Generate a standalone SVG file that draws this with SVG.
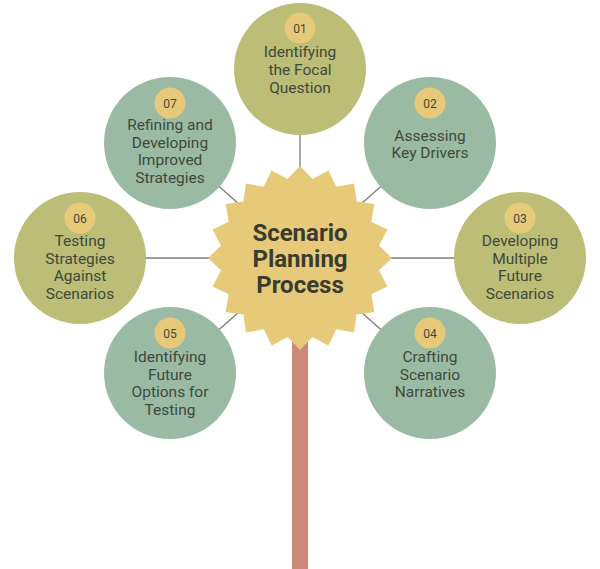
<svg xmlns="http://www.w3.org/2000/svg" width="600" height="569" viewBox="0 0 600 569">
<style>
.olive{fill:#bcbd76}
.sage{fill:#9bbaa4}
.badge{fill:#e6c979}
.lbl{font-family:Roboto,"Liberation Sans",sans-serif;font-size:15.5px;fill:#3e4a3d;text-anchor:middle}
.num{font-family:Roboto,"Liberation Sans",sans-serif;font-size:12px;fill:#3e4a3d;text-anchor:middle}
.title{font-family:Roboto,"Liberation Sans",sans-serif;font-size:24px;font-weight:bold;fill:#3b3b2e;text-anchor:middle}
.conn{stroke:#7c7c7c;stroke-width:1.3;fill:none}
</style>
<rect width="600" height="569" fill="#ffffff"/>
<rect id="stem" x="292" y="300" width="16" height="269" fill="#cd887b"/>
<g id="connectors">
<line class="conn" x1="300" y1="258" x2="300" y2="69"/>
<line class="conn" x1="300" y1="258" x2="430" y2="143"/>
<line class="conn" x1="300" y1="258" x2="520" y2="258"/>
<line class="conn" x1="300" y1="258" x2="430" y2="373"/>
<line class="conn" x1="300" y1="258" x2="170" y2="373"/>
<line class="conn" x1="300" y1="258" x2="80" y2="258"/>
<line class="conn" x1="300" y1="258" x2="170" y2="143"/>
</g>
<g id="center">
<polygon fill="#e6c979" points="300,166 312.5,179 328.4,170.5 336.3,186.7 354.1,183.6 356.6,201.4 374.4,203.9 371.3,221.7 387.5,229.6 379,245.5 392,258 379,270.5 387.5,286.4 371.3,294.3 374.4,312.1 356.6,314.6 354.1,332.4 336.3,329.3 328.4,345.5 312.5,337 300,350 287.5,337 271.6,345.5 263.7,329.3 245.9,332.4 243.4,314.6 225.6,312.1 228.7,294.3 212.5,286.4 221,270.5 208,258 221,245.5 212.5,229.6 228.7,221.7 225.6,203.9 243.4,201.4 245.9,183.6 263.7,186.7 271.6,170.5 287.5,179"/>
<text class="title" x="300" y="241">Scenario</text>
<text class="title" x="300" y="267">Planning</text>
<text class="title" x="300" y="293">Process</text>
</g>
<g id="node01">
<circle class="olive" cx="300" cy="69" r="66"/>
<circle class="badge" cx="300" cy="28" r="15.5"/>
<text class="num" x="300" y="32.5">01</text>
<text class="lbl" x="300" y="57">Identifying</text>
<text class="lbl" x="300" y="75">the Focal</text>
<text class="lbl" x="300" y="92.5">Question</text>
</g>
<g id="node02">
<circle class="sage" cx="430" cy="143" r="66"/>
<circle class="badge" cx="430" cy="103" r="15.5"/>
<text class="num" x="430" y="107.5">02</text>
<text class="lbl" x="430" y="140.5">Assessing</text>
<text class="lbl" x="430" y="158">Key Drivers</text>
</g>
<g id="node03">
<circle class="olive" cx="520" cy="258" r="66"/>
<circle class="badge" cx="520" cy="218" r="15.5"/>
<text class="num" x="520" y="222.5">03</text>
<text class="lbl" x="520" y="246">Developing</text>
<text class="lbl" x="520" y="263.5">Multiple</text>
<text class="lbl" x="520" y="281">Future</text>
<text class="lbl" x="520" y="298.5">Scenarios</text>
</g>
<g id="node04">
<circle class="sage" cx="430" cy="373" r="66"/>
<circle class="badge" cx="430" cy="333" r="15.5"/>
<text class="num" x="430" y="337.5">04</text>
<text class="lbl" x="430" y="362">Crafting</text>
<text class="lbl" x="430" y="379.5">Scenario</text>
<text class="lbl" x="430" y="397">Narratives</text>
</g>
<g id="node05">
<circle class="sage" cx="170" cy="373" r="66"/>
<circle class="badge" cx="170" cy="333" r="15.5"/>
<text class="num" x="170" y="337.5">05</text>
<text class="lbl" x="170" y="362">Identifying</text>
<text class="lbl" x="170" y="379.5">Future</text>
<text class="lbl" x="170" y="397">Options for</text>
<text class="lbl" x="170" y="414.5">Testing</text>
</g>
<g id="node06">
<circle class="olive" cx="80" cy="258" r="66"/>
<circle class="badge" cx="80" cy="218" r="15.5"/>
<text class="num" x="80" y="222.5">06</text>
<text class="lbl" x="80" y="246">Testing</text>
<text class="lbl" x="80" y="263.5">Strategies</text>
<text class="lbl" x="80" y="281">Against</text>
<text class="lbl" x="80" y="298.5">Scenarios</text>
</g>
<g id="node07">
<circle class="sage" cx="170" cy="143" r="66"/>
<circle class="badge" cx="170" cy="103" r="15.5"/>
<text class="num" x="170" y="107.5">07</text>
<text class="lbl" x="170" y="130">Refining and</text>
<text class="lbl" x="170" y="147.5">Developing</text>
<text class="lbl" x="170" y="165">Improved</text>
<text class="lbl" x="170" y="182.5">Strategies</text>
</g>
</svg>
